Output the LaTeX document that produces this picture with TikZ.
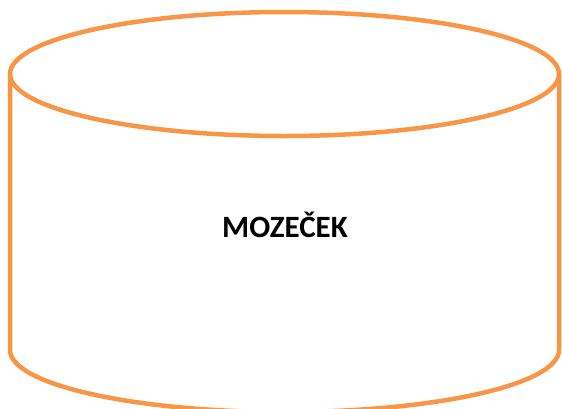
\documentclass[tikz,border=0pt]{standalone}
\usepackage{fontspec}
\setmainfont{Carlito}
\definecolor{accentorange}{HTML}{F79646}
\begin{document}
\begin{tikzpicture}[x=1pt,y=-1pt,
  rim/.style={draw=accentorange,line width=4.5pt,line cap=round,line join=round},
  label/.style={font=\fontsize{31}{36}\selectfont\bfseries,text=black,inner sep=0pt}]
  \useasboundingbox (0,0) rectangle (562,408);
  % body: sides and lower front arc
  \path[rim] (10,74) -- (10,350) arc[start angle=180,end angle=360,x radius=274.5,y radius=-62] -- (559,74);
  % top lid
  \path[rim] (284.5,74) ellipse[x radius=274.5,y radius=62];
  \node[label] (title) at (285,225) {MOZEČEK};
\end{tikzpicture}
\end{document}
